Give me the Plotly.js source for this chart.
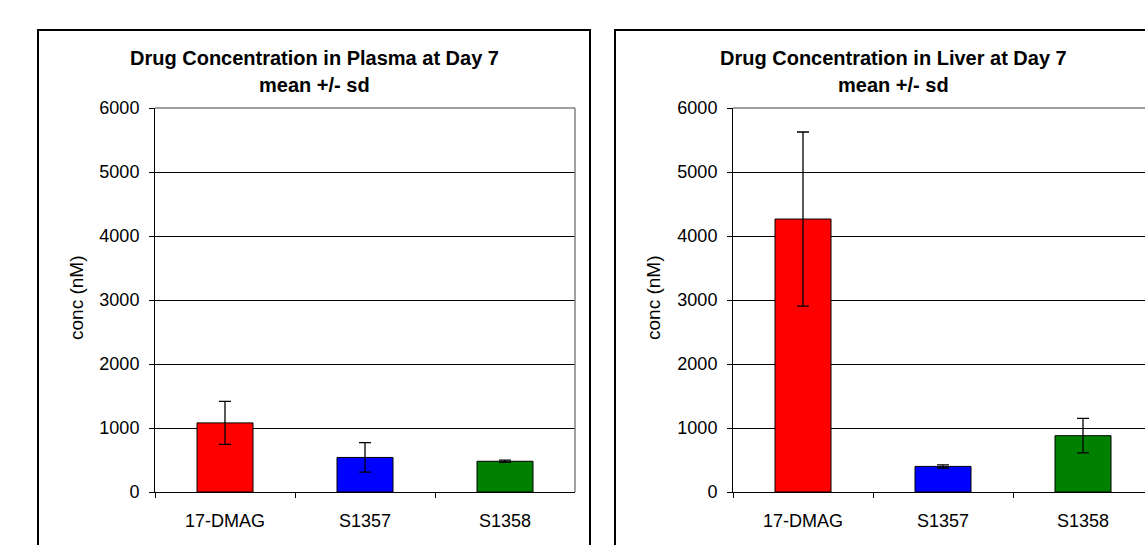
<!DOCTYPE html>
<html>
<head>
<meta charset="utf-8">
<script src="https://cdn.plot.ly/plotly-3.0.1.min.js"></script>
<style>html,body{margin:0;padding:0;background:#fff}#chart{width:1145px;height:545px}</style>
</head>
<body>
<div id="chart"></div>
<script>
// ---- data ----
const categories = ["17-DMAG", "S1357", "S1358"];
const barColors = ["#FF0000", "#0000FF", "#008000"];
const plasmaMean = [1080, 540, 480];
const plasmaSd = [335, 230, 18];
const liverMean = [4265, 400, 880];
const liverSd = [1360, 25, 270];
const plasmaTitle = "Drug Concentration in Plasma at Day 7";
const liverTitle = "Drug Concentration in Liver at Day 7";
const subTitle = "mean +/- sd";
const yTitle = "conc (nM)";
const yTicks = [0, 1000, 2000, 3000, 4000, 5000, 6000];

// ---- layout helpers ----
const W = 1145, H = 545;
const px = v => v / W;
const py = v => 1 - v / H;
const FONT = "Liberation Sans, Arial, sans-serif";

function barTrace(mean, sd, xa, ya) {
  return {
    type: "bar", x: categories, y: mean, xaxis: xa, yaxis: ya,
    width: 0.4,
    marker: {color: barColors, line: {color: "#000", width: 1}},
    error_y: {type: "data", array: sd, visible: true, color: "#000", thickness: 1.3, width: 6},
    hoverinfo: "skip", showlegend: false
  };
}

const yAxisBase = {
  range: [0, 6000], tickvals: yTicks, ticks: "outside", ticklen: 5, tickcolor: "#000",
  showline: true, linecolor: "#000", linewidth: 1, showgrid: true, gridcolor: "#000", gridwidth: 1,
  zeroline: false, tickfont: {family: FONT, size: 18, color: "#000"}, fixedrange: true,
  ticklabelstandoff: 6,
  domain: [1 - 492 / H, 1 - 108 / H]
};
const xAxisBase = {
  type: "category", ticks: "outside", ticklen: 5, tickcolor: "#000", tickson: "boundaries",
  showline: true, linecolor: "#000", linewidth: 1, showgrid: false, zeroline: false,
  tickfont: {family: FONT, size: 18, color: "#000"}, fixedrange: true,
  ticklabelstandoff: 12
};

const layout = {
  width: W, height: H, autosize: false,
  margin: {l: 0, r: 0, t: 0, b: 0},
  paper_bgcolor: "#fff", plot_bgcolor: "#fff",
  bargap: 0.6, showlegend: false,
  xaxis: Object.assign({}, xAxisBase, {domain: [px(155), px(575)], range: [-0.5, 2.5], anchor: "y"}),
  yaxis: Object.assign({}, yAxisBase, {anchor: "x"}),
  xaxis2: Object.assign({}, xAxisBase, {domain: [px(733), 1], range: [-0.5, -0.5 + (W - 733) / 140], anchor: "y2"}),
  yaxis2: Object.assign({}, yAxisBase, {anchor: "x2"}),
  shapes: [
    // panel borders
    {type: "rect", xref: "paper", yref: "paper", x0: px(38), x1: px(590), y0: -0.1, y1: py(30), line: {color: "#000", width: 2}, layer: "above"},
    {type: "rect", xref: "paper", yref: "paper", x0: px(615), x1: 1.05, y0: -0.1, y1: py(30), line: {color: "#000", width: 2}, layer: "above"},
    // gray plot frame (top, right)
    {type: "line", xref: "x domain", yref: "y domain", x0: 0, x1: 1, y0: 1, y1: 1, line: {color: "#808080", width: 1.5}, layer: "above"},
    {type: "line", xref: "x domain", yref: "y domain", x0: 1, x1: 1, y0: 0, y1: 1, line: {color: "#808080", width: 1.5}, layer: "above"},
    {type: "line", xref: "x2 domain", yref: "y2 domain", x0: 0, x1: 1, y0: 1, y1: 1, line: {color: "#808080", width: 1.5}, layer: "above"}
  ],
  annotations: [
    {text: "<b>" + plasmaTitle + "</b>", xref: "paper", yref: "paper", x: px(314), y: py(58), xanchor: "center", yanchor: "middle", showarrow: false, font: {family: FONT, size: 20, color: "#000"}},
    {text: "<b>" + subTitle + "</b>", xref: "paper", yref: "paper", x: px(314), y: py(85), xanchor: "center", yanchor: "middle", showarrow: false, font: {family: FONT, size: 20, color: "#000"}},
    {text: "<b>" + liverTitle + "</b>", xref: "paper", yref: "paper", x: px(893), y: py(58), xanchor: "center", yanchor: "middle", showarrow: false, font: {family: FONT, size: 20, color: "#000"}},
    {text: "<b>" + subTitle + "</b>", xref: "paper", yref: "paper", x: px(893), y: py(85), xanchor: "center", yanchor: "middle", showarrow: false, font: {family: FONT, size: 20, color: "#000"}},
    {text: yTitle, xref: "paper", yref: "paper", x: px(76), y: py(298), xanchor: "center", yanchor: "middle", textangle: -90, showarrow: false, font: {family: FONT, size: 19, color: "#000"}},
    {text: yTitle, xref: "paper", yref: "paper", x: px(653), y: py(298), xanchor: "center", yanchor: "middle", textangle: -90, showarrow: false, font: {family: FONT, size: 19, color: "#000"}}
  ]
};

Plotly.newPlot("chart", [
  barTrace(plasmaMean, plasmaSd, "x", "y"),
  barTrace(liverMean, liverSd, "x2", "y2")
], layout, {staticPlot: true, displayModeBar: false});
</script>
</body>
</html>
